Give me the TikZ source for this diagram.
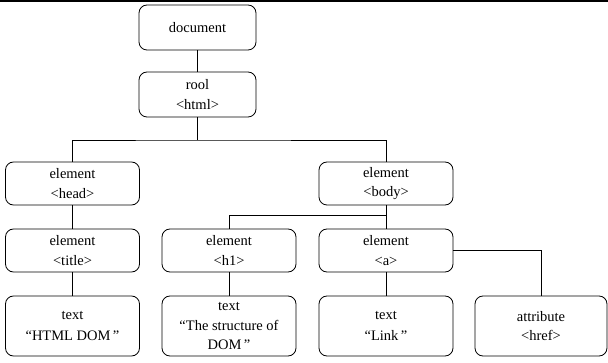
\documentclass[tikz,border=0pt]{standalone}
\usepackage{fontspec}
\setmainfont{Liberation Serif}
\usepackage{tikz}
\usetikzlibrary{calc,positioning}

\begin{document}
\begin{tikzpicture}[x=1pt, y=-1pt,
    domnode/.style={draw, line width=0.8pt, rounded corners=8pt, align=center,
        minimum width=134pt, minimum height=43pt, inner sep=1pt,
        font=\rmfamily\fontsize{14.5}{19.5}\selectfont},
    leafnode/.style={domnode, minimum height=60pt},
    link/.style={line width=0.8pt}]

    % Frame
    \useasboundingbox (0,0) rectangle (608,363);
    \draw[line width=2.5pt] (0,1.2) -- (608,1.2);

    % Root levels
    \node[domnode, minimum width=117pt, minimum height=45pt] (doc) at (197.5,27.5) {document};
    \node[domnode, minimum width=117pt, minimum height=45pt] (root) at (197.5,94.5) {rool\\<html>};

    % Element nodes
    \node[domnode] (head) at (72.5,183.5) {element\\<head>};
    \node[domnode] (body) at (386,183.5) {element\\<body>};
    \node[domnode] (title) at (72.5,250.5) {element\\<title>};
    \node[domnode] (hone) at (229,250.5) {element\\<h1>};
    \node[domnode] (anchor) at (386,250.5) {element\\<a>};

    % Text and attribute nodes
    \node[leafnode] (txtdom) at (72.5,326) {text\\[2pt]“HTML DOM\,”};
    \node[leafnode] (txtstruct) at (229,326) {text\\“The structure of\\DOM\,”};
    \node[leafnode] (txtlink) at (386,326) {text\\[2pt]“Link\,”};
    \node[leafnode, minimum width=132pt] (href) at (541,326) {attribute\\<href>};

    % Junctions
    \coordinate (rootbar) at (197.5,140);
    \coordinate (bodybar) at (386,215);

    % Connectors
    \draw[link] (doc) -- (root);
    \draw[link] (root) -- (rootbar);
    \draw[link] (head.north) |- (rootbar) -| (body.north);
    \draw[link] (head) -- (title);
    \draw[link] (title) -- (txtdom);
    \draw[link] (body) -- (anchor);
    \draw[link] (hone.north) |- (bodybar);
    \draw[link] (hone) -- (txtstruct);
    \draw[link] (anchor) -- (txtlink);
    \draw[link] (anchor.east) -| (href.north);

\end{tikzpicture}
\end{document}
